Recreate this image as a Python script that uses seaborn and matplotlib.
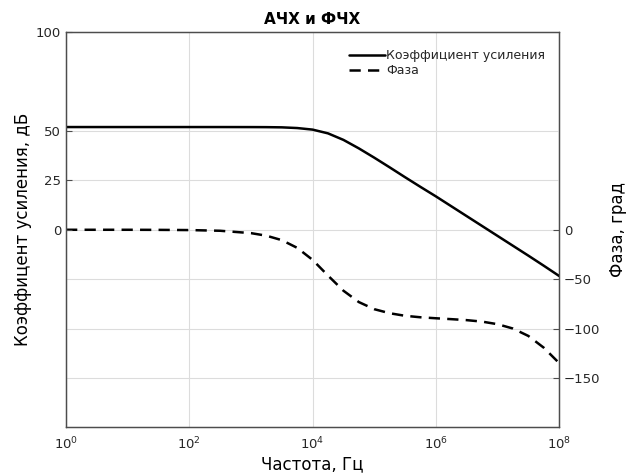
import matplotlib
matplotlib.use("Agg")
import matplotlib.pyplot as plt
import seaborn as sns
import numpy as np
import pandas as pd
from matplotlib.lines import Line2D

# ---- data ----
log_freq = [0, 0.5, 1, 1.5, 2, 2.5, 3, 3.25, 3.5, 3.75, 4, 4.25, 4.5, 4.75,
            5, 5.25, 5.5, 5.75, 6, 6.25, 6.5, 6.75, 7, 7.25, 7.5, 7.75, 8]
gain_db = [52.0, 52.0, 52.0, 52.0, 52.0, 52.0, 51.98, 51.95, 51.85, 51.5, 50.7,
           48.8, 45.5, 41.2, 36.5, 31.6, 26.6, 21.7, 16.9, 11.9, 6.9, 1.9,
           -3.1, -8.1, -13.1, -18.2, -23.4]
phase_deg = [0.0, 0.0, -0.0, -0.1, -0.3, -1.0, -3.4, -6.0, -10.5, -18.3, -30.5,
             -46.4, -61.7, -73.2, -80.4, -84.5, -87.1, -88.6, -89.6, -90.5,
             -91.5, -93.0, -95.6, -100.0, -107.5, -119.4, -135.0]

gain_ticks = [0, 25, 50, 100]
phase_ticks = [-150, -100, -50, 0]
x_ticks_exp = [0, 2, 4, 6, 8]

title = "АЧХ и ФЧХ"
xlabel = "Частота, Гц"
ylabel_left = "Коэффицент усиления, дБ"
ylabel_right = "Фаза, град"
legend_labels = ["Коэффициент усиления", "Фаза"]

df = pd.DataFrame({
    "freq": [10.0 ** v for v in log_freq],
    "gain": gain_db,
    "phase": phase_deg,
})

sns.set_theme(style="white")
plt.rcParams["font.family"] = ["DejaVu Sans"]

fig = plt.figure(figsize=(6.29, 4.74), dpi=100)
# main axes holds the phase (right side), twin holds gain (left side, on top)
axp = fig.add_axes([0.105, 0.0985, 0.784, 0.8335])
axg = axp.twinx()

axis_col = "#4d4d4d"
grid_col = "#dcdcdc"
text_col = "#262626"
lw = 1.8
dash = (0, (4.5, 2.9))

sns.lineplot(data=df, x="freq", y="phase", ax=axp, color="black",
             linewidth=lw, linestyle=dash, legend=False)
sns.lineplot(data=df, x="freq", y="gain", ax=axg, color="black",
             linewidth=lw, legend=False)

# move axes sides: phase -> right, gain -> left
axp.yaxis.tick_right()
axp.yaxis.set_label_position("right")
axg.yaxis.tick_left()
axg.yaxis.set_label_position("left")

for a in (axp, axg):
    a.set_xscale("log")
    a.set_xlim(1, 1e8)
axg.set_ylim(-100, 100)
axp.set_ylim(-200, 200)

axp.set_xticks([10.0 ** e for e in x_ticks_exp])
axp.set_xticklabels([f"$10^{{{e}}}$" for e in x_ticks_exp])
axp.xaxis.set_minor_locator(matplotlib.ticker.NullLocator())
axg.xaxis.set_minor_locator(matplotlib.ticker.NullLocator())
axg.set_yticks(gain_ticks)
axp.set_yticks(phase_ticks)
axp.set_yticklabels([f"\u2212{abs(v)}" if v < 0 else str(v) for v in phase_ticks])

axp.grid(True, axis="both", color=grid_col, linewidth=0.8)
axp.set_axisbelow(True)
axg.grid(True, axis="y", color=grid_col, linewidth=0.8)
axg.set_axisbelow(True)
for val, gl in zip(gain_ticks, axg.get_ygridlines()):
    if val == 0:
        gl.set_visible(False)

for a in (axp, axg):
    a.tick_params(direction="in", length=4, width=0.8, colors=axis_col,
                  labelcolor=text_col, labelsize=9.5)
    for s in a.spines.values():
        s.set_color(axis_col)
        s.set_linewidth(0.9)
axp.tick_params(axis="x", pad=6)

axp.set_xlabel(xlabel, fontsize=12, color="black", labelpad=2)
axg.set_xlabel("")
axg.set_ylabel(ylabel_left, fontsize=12, color="black", labelpad=3)
axp.set_ylabel(ylabel_right, fontsize=12, color="black", labelpad=6)
axp.set_title(title, fontsize=11, fontweight="bold", color="black", pad=6)

handles = [Line2D([], [], color="black", linewidth=lw),
           Line2D([], [], color="black", linewidth=lw, linestyle=dash)]
leg = axg.legend(handles, legend_labels, loc="upper right", frameon=False,
                 fontsize=9, handlelength=2.9, handletextpad=0.1,
                 labelspacing=0.15, bbox_to_anchor=(0.995, 0.985))
for t in leg.get_texts():
    t.set_color(text_col)

fig.savefig("out.png", dpi=100)
